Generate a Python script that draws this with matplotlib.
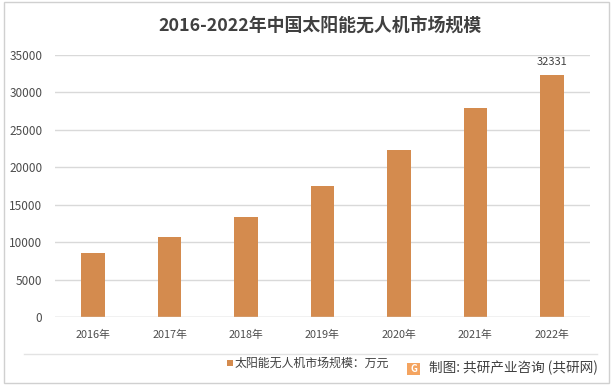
import matplotlib
matplotlib.use("Agg")
import matplotlib.pyplot as plt
from matplotlib.patches import Rectangle
from matplotlib.lines import Line2D

plt.rcParams['font.family'] = ['Noto Sans CJK SC', 'DejaVu Sans']

years = ["2016年", "2017年", "2018年", "2019年", "2020年", "2021年", "2022年"]
values = [8550, 10700, 13400, 17500, 22300, 27950, 32331]
yticks = [0, 5000, 10000, 15000, 20000, 25000, 30000, 35000]
title = "2016-2022年中国太阳能无人机市场规模"
legend_label = "太阳能无人机市场规模：万元"
source = "制图: 共研产业咨询 (共研网)"

bar_color = "#D48B4E"
text_color = "#4D4D4D"

fig = plt.figure(figsize=(6.13, 3.88), dpi=100)
W, H = 613, 388
ax = fig.add_axes([55 / W, 1 - 317 / H, (590 - 55) / W, (317 - 55) / H])

x = list(range(len(years)))
ax.bar(x, values, width=0.31, color=bar_color, zorder=3)
ax.set_xlim(-0.5, len(years) - 0.5)
ax.set_ylim(0, 35000)
ax.set_yticks(yticks)
ax.set_yticklabels([str(v) for v in yticks], fontsize=8.5, color=text_color)
ax.set_xticks(x)
ax.set_xticklabels(years, fontsize=7.8, color=text_color, fontweight="medium")
ax.tick_params(axis='y', length=0, pad=9)
ax.tick_params(axis='x', length=0, pad=9)
ax.grid(axis='y', color="#D9D9D9", linewidth=1, zorder=0)
for s in ax.spines.values():
    s.set_visible(False)
ax.axhline(0, color="#D9D9D9", linewidth=1, zorder=4)

ax.annotate(str(values[-1]), (x[-1], values[-1]), xytext=(0, 6),
            textcoords="offset points", ha="center", va="bottom",
            fontsize=8, color="#404040")

fig.text(320 / W, 1 - 27 / H, title, ha="center", va="center", fontsize=12.9,
         fontweight="bold", color="#404040")

# outer border
fig.add_artist(Rectangle((4 / W, 1 - 383 / H), 605 / W, 381 / H, transform=fig.transFigure,
                         fill=False, edgecolor="#D0D0D0", linewidth=1))
# separator line
fig.add_artist(Line2D([24 / W, 597 / W], [1 - 354 / H, 1 - 354 / H], transform=fig.transFigure,
                      color="#E3E3E3", linewidth=1))

# legend
fig.add_artist(Rectangle((227 / W, 1 - 366 / H), 6 / W, 6 / H, transform=fig.transFigure,
                         facecolor=bar_color, edgecolor="none"))
fig.text(235 / W, 1 - 363 / H, legend_label, ha="left", va="center", fontsize=8.6,
         color="#404040", fontweight="medium")

# logo
fig.add_artist(Rectangle((407 / W, 1 - 375 / H), 13 / W, 12 / H, transform=fig.transFigure,
                         facecolor="#F4A460", edgecolor="none"))
fig.text(413.5 / W, 1 - 369 / H, "G", ha="center", va="center", fontsize=7, color="white",
         fontweight="bold")
fig.text(429 / W, 1 - 368 / H, source, ha="left", va="center", fontsize=9.8, color="#404040")

fig.savefig("out.png", dpi=100)
